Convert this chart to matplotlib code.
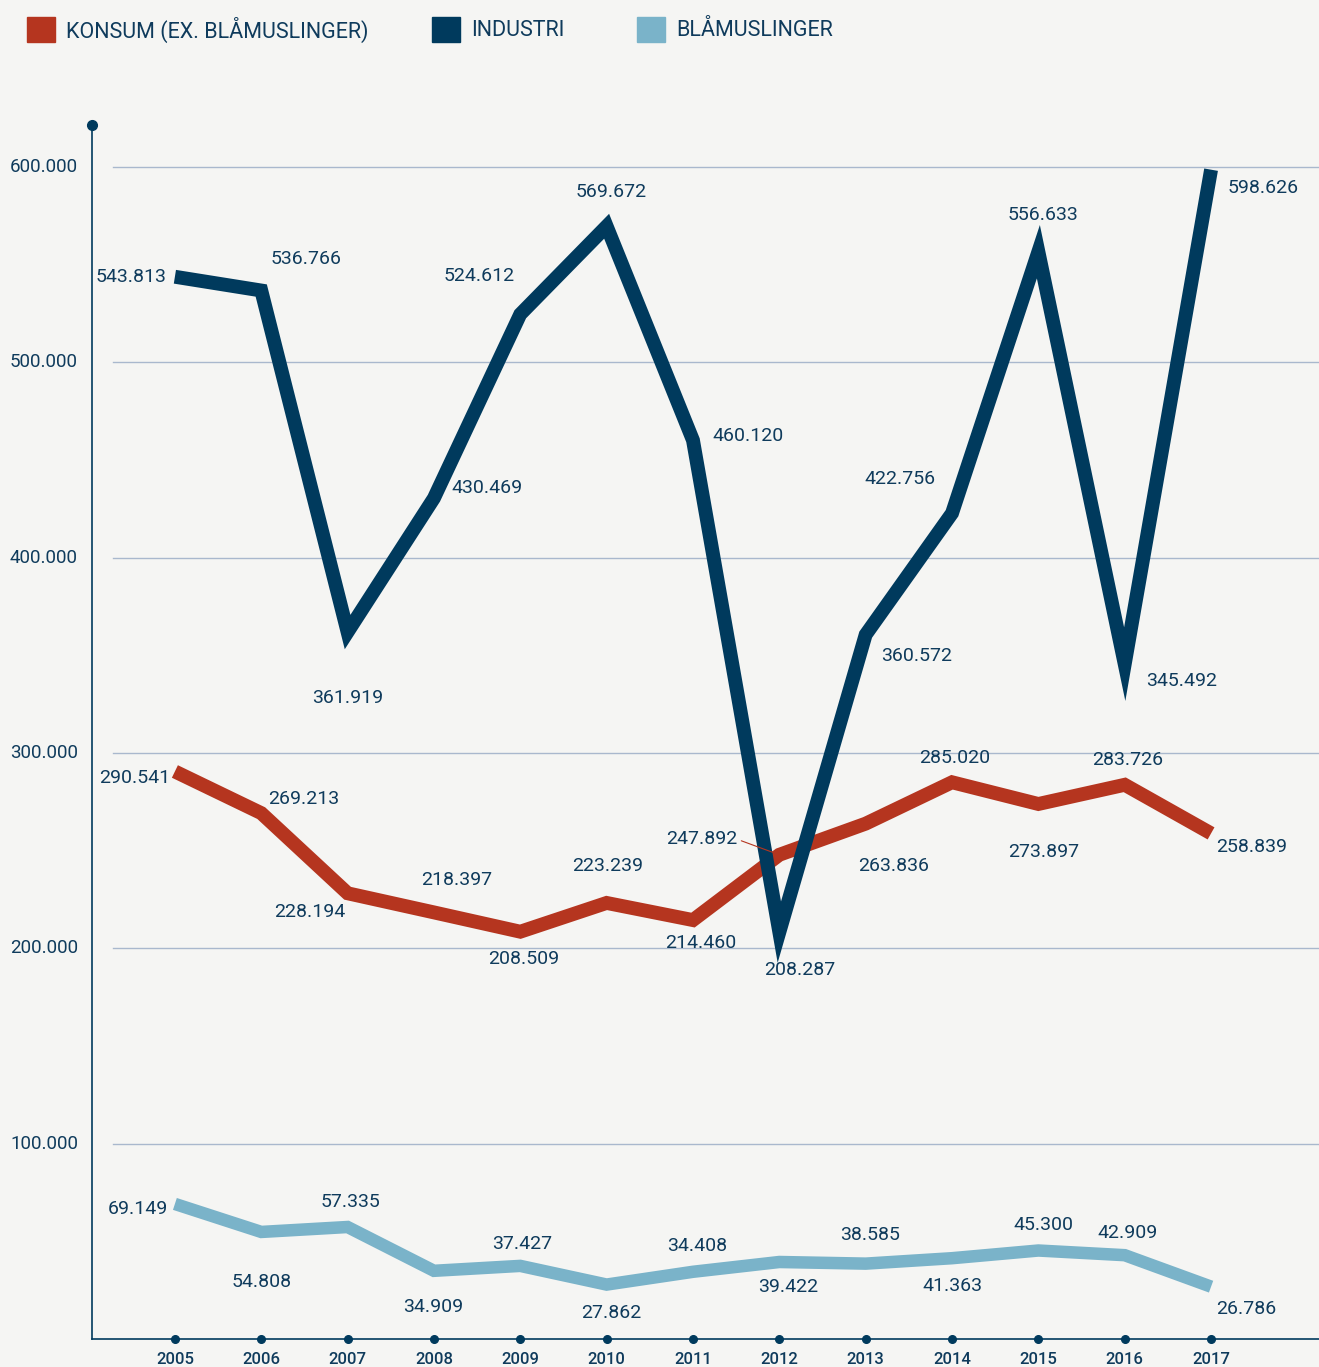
import matplotlib.pyplot as plt
from matplotlib.patches import Rectangle

years = list(range(2005, 2018))
konsum = [290541, 269213, 228194, 218397, 208509, 223239, 214460,
          247892, 263836, 285020, 273897, 283726, 258839]
industri = [543813, 536766, 361919, 430469, 524612, 569672, 460120,
            208287, 360572, 422756, 556633, 345492, 598626]
blaamusl = [69149, 54808, 57335, 34909, 37427, 27862, 34408,
            39422, 38585, 41363, 45300, 42909, 26786]
yticks = [100000, 200000, 300000, 400000, 500000, 600000]
legend_names = ["KONSUM (EX. BLÅMUSLINGER)", "INDUSTRI", "BLÅMUSLINGER"]

RED = "#b5351f"
NAVY = "#003a5d"
LIGHT = "#7ab3c9"
TXT = "#0f3b5c"
BG = "#f5f5f3"
GRID = "#a9b8cd"

# label offsets in pixels (dx, dy, ha)
ind_off = [(-8, 0, "right"), (9, 32, "left"), (0, -66, "center"), (18, 10, "left"),
           (-6, 38, "right"), (5, 34, "center"), (19, 4, "left"), (20, -38, "center"),
           (15, -21, "left"), (-16, 34, "right"), (5, 37, "center"), (21, -17, "left"),
           (17, -18, "left")]
kon_off = [(-5, -7, "right"), (7, 14, "left"), (-38, -19, "center"), (23, 32, "center"),
           (3, -27, "center"), (1, 37, "center"), (8, -23, "center"), (-42, 16, "right"),
           (28, -42, "center"), (3, 24, "center"), (5, -48, "center"), (3, 25, "center"),
           (5, -14, "left")]
bla_off = [(-7, -5, "right"), (0, -50, "center"), (3, 25, "center"), (-1, -36, "center"),
           (2, 22, "center"), (5, -28, "center"), (4, 26, "center"), (9, -25, "center"),
           (4, 29, "center"), (0, -28, "center"), (5, 26, "center"), (3, 22, "center"),
           (5, -22, "left")]

plt.rcParams['font.family'] = ['Roboto', 'DejaVu Sans']


def fmt(v):
    return f"{v:,}".replace(",", ".")


def main():
    fig = plt.figure(figsize=(13.19, 13.67), dpi=100, facecolor=BG)
    ax = fig.add_axes([92 / 1319, 28 / 1367, 1 - 92 / 1319, (1339 - 125) / 1367])
    ax.set_facecolor(BG)
    ax.set_xlim(2004.04, 2018.25)
    ax.set_ylim(0, 621500)

    for t in yticks:
        ax.plot([2004.28, 2018.25], [t, t], color=GRID, lw=1, zorder=1)
        ax.annotate(fmt(t), (0, t), xycoords=ax.get_yaxis_transform(),
                    xytext=(-14, 0), textcoords="offset pixels",
                    ha="right", va="center", fontsize=13.5, color=TXT,
                    annotation_clip=False)
    ax.set_yticks([])
    ax.set_xticks([])

    for s in ["top", "right"]:
        ax.spines[s].set_visible(False)
    for s in ["left", "bottom"]:
        ax.spines[s].set_color(NAVY)
        ax.spines[s].set_linewidth(1.2)
    ax.plot([2004.04], [621500], "o", color=NAVY, ms=7, clip_on=False, zorder=5)
    ax.plot(years, [0] * len(years), "o", color=NAVY, ms=5.5, clip_on=False, zorder=5)
    for y in years:
        ax.annotate(str(y), (y, 0), xytext=(0, -13), textcoords="offset pixels",
                    ha="center", va="top", fontsize=12, fontweight="medium",
                    color=TXT, annotation_clip=False)

    series = [(blaamusl, LIGHT, 9, bla_off), (konsum, RED, 10, kon_off),
              (industri, NAVY, 10, ind_off)]
    for vals, col, lw, offs in series:
        ax.plot(years, vals, color=col, lw=lw, solid_joinstyle="miter",
                solid_capstyle="butt", zorder=3)
        for x, v, (dx, dy, ha) in zip(years, vals, offs):
            ax.annotate(fmt(v), (x, v), xytext=(dx, dy), textcoords="offset pixels",
                        ha=ha, va="center", fontsize=14, color=TXT, zorder=6)

    # connector for 2012 konsum label
    ax.annotate("", (2012, konsum[7]), xytext=(-38, 14), textcoords="offset pixels",
                arrowprops=dict(arrowstyle="-", color=RED, lw=0.8, shrinkA=0, shrinkB=4),
                zorder=6)

    # legend
    items = [(27, RED), (432, NAVY), (637, LIGHT)]
    for (x0, col), name in zip(items, legend_names):
        fig.patches.append(Rectangle((x0 / 1319, 1 - 42 / 1367), 28 / 1319, 25 / 1367,
                                     transform=fig.transFigure, color=col))
        fig.text((x0 + 39) / 1319, 1 - 30 / 1367, name, ha="left", va="center",
                 fontsize=15.5, color=TXT)

    fig.savefig("out.png", dpi=100, facecolor=BG)


if __name__ == "__main__":
    main()
